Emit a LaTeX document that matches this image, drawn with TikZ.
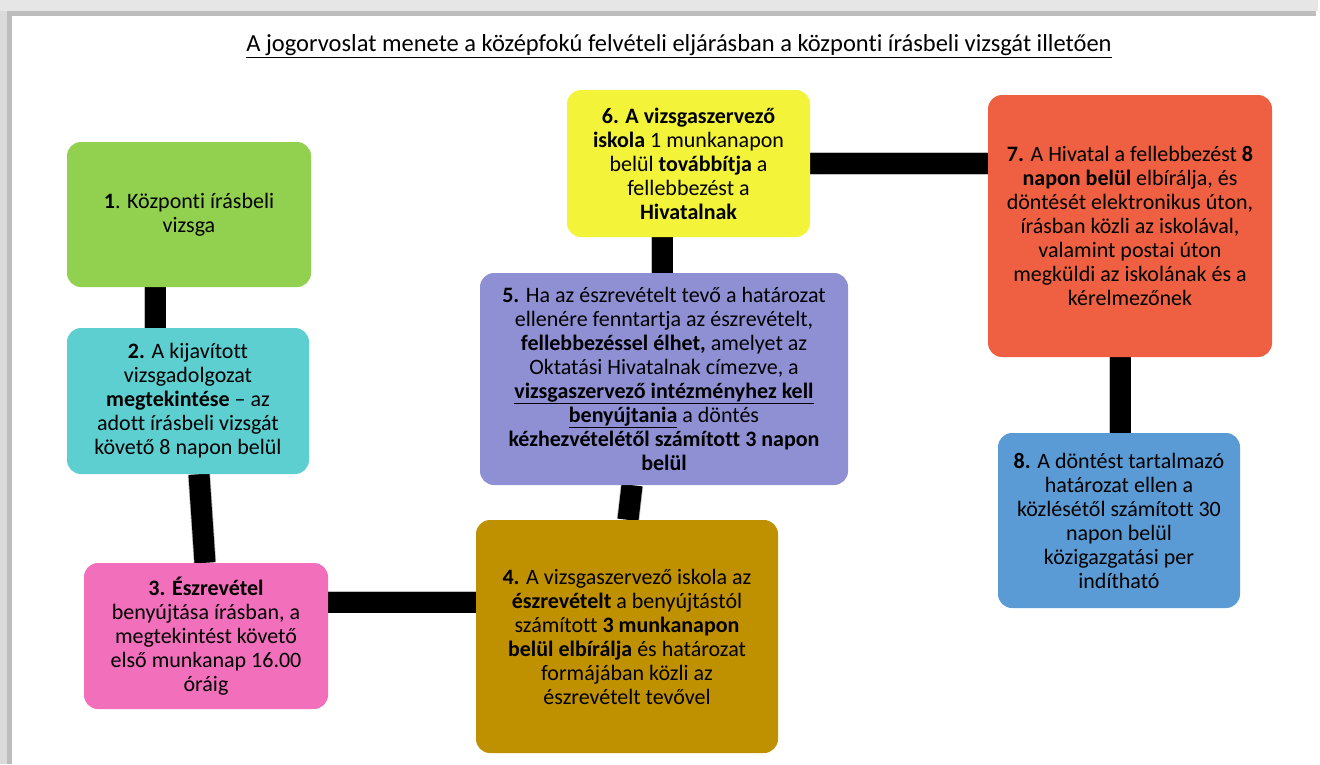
\documentclass[tikz,border=0pt]{standalone}
\usepackage{fontspec}
\setmainfont{Carlito}[RawFeature={-liga;-clig;-calt}]
\usetikzlibrary{backgrounds}
\definecolor{cGreen}{HTML}{92D050}
\definecolor{cCyan}{HTML}{5DCFD0}
\definecolor{cPink}{HTML}{F16FBB}
\definecolor{cGold}{HTML}{BF9000}
\definecolor{cPurple}{HTML}{8F90D4}
\definecolor{cYellow}{HTML}{F3F33A}
\definecolor{cOrange}{HTML}{EF6042}
\definecolor{cBlue}{HTML}{5B9BD5}
\definecolor{cFrameA}{HTML}{E6E6E6}
\definecolor{cFrameB}{HTML}{BDBDBD}
\definecolor{cFrameC}{HTML}{DADADA}
\begin{document}
\begin{tikzpicture}[x=1pt,y=-1pt,
  stepbox/.style={rectangle, rounded corners=14pt, inner sep=0pt, align=center,
    font=\fontsize{22}{24}\selectfont, text=black},
  conn/.style={line width=21pt, black, preaction={draw=gray!50, line width=22.5pt}}]
\useasboundingbox (0,0) rectangle (1320,764);
% title
\node[font=\fontsize{24.5}{28}\selectfont, inner sep=0pt] (title) at (679,46) {\underline{A jogorvoslat menete a középfokú felvételi eljárásban a központi írásbeli vizsgát illetően}};
% boxes
\node[stepbox, fill=cGreen, minimum width=244pt, minimum height=145pt] (n1) at (189,214.5)
 {\textbf{1}. Központi írásbeli\\ vizsga};
\node[stepbox, fill=cCyan, minimum width=242pt, minimum height=146pt] (n2) at (188,401)
 {\textbf{2.} A kijavított\\ vizsgadolgozat\\ \textbf{megtekintése} – az\\ adott írásbeli vizsgát\\ követő 8 napon belül};
\node[stepbox, fill=cPink, minimum width=244pt, minimum height=146pt] (n3) at (206,636)
 {\textbf{3. Észrevétel}\\ benyújtása írásban, a\\ megtekintést követő\\ első munkanap 16.00\\ óráig};
\node[stepbox, fill=cGold, minimum width=302pt, minimum height=233pt] (n4) at (627,636.5)
 {\textbf{4.} A vizsgaszervező iskola az\\ \textbf{észrevételt} a benyújtástól\\ számított \textbf{3 munkanapon}\\ \textbf{belül elbírálja} és határozat\\ formájában közli az\\ észrevételt tevővel};
\node[stepbox, fill=cPurple, minimum width=368pt, minimum height=212pt] (n5) at (664,379)
 {\textbf{5.} Ha az észrevételt tevő a határozat\\ ellenére fenntartja az észrevételt,\\ \textbf{fellebbezéssel élhet,} amelyet az\\ Oktatási Hivatalnak címezve, a\\ \underline{\textbf{vizsgaszervező intézményhez kell}}\\ \underline{\textbf{benyújtania}} a döntés\\ \textbf{kézhezvételétől számított 3 napon}\\ \textbf{belül}};
\node[stepbox, fill=cYellow, minimum width=243pt, minimum height=147pt] (n6) at (688.5,163.5)
 {\textbf{6. A vizsgaszervező}\\ \textbf{iskola} 1 munkanapon\\ belül \textbf{továbbítja} a\\ fellebbezést a\\ \textbf{Hivatalnak}};
\node[stepbox, fill=cOrange, minimum width=284pt, minimum height=262pt] (n7) at (1130,226)
 {\textbf{7.} A Hivatal a fellebbezést \textbf{8}\\ \textbf{napon belül} elbírálja, és\\ döntését elektronikus úton,\\ írásban közli az iskolával,\\ valamint postai úton\\ megküldi az iskolának és a\\ kérelmezőnek};
\node[stepbox, fill=cBlue, minimum width=242pt, minimum height=175pt] (n8) at (1119,520.5)
 {\textbf{8.} A döntést tartalmazó\\ határozat ellen a\\ közlésétől számított 30\\ napon belül\\ közigazgatási per\\ indítható};
\begin{scope}[on background layer]
% frame shadow
\fill[white] (0,0) rectangle (1320,764);
\fill[cFrameA] (0,0) rectangle (1318,11);
\fill[cFrameB] (12,11) rectangle (1316,16);
\fill[cFrameC] (0,11) rectangle (7,764);
\fill[cFrameB] (7,11) rectangle (12,764);
% connectors
\draw[conn] ([xshift=-34pt]n1.south) -- ([xshift=-33pt]n2.north);
\draw[conn] ([xshift=11pt]n2.south) -- ([xshift=-1pt]n3.north);
\draw[conn] ([yshift=34pt]n3.east) -- ([yshift=34.5pt]n4.west);
\draw[conn] ([xshift=-32pt]n5.south) -- ([xshift=1pt]n4.north);
\draw[conn] ([xshift=-26.5pt]n6.south) -- ([xshift=-2pt]n5.north);
\draw[conn] (n6.east) -- (n6.east -| n7.west);
\draw[conn] ([xshift=-10pt]n7.south) -- ([xshift=1pt]n8.north);
\end{scope}
\end{tikzpicture}
\end{document}
